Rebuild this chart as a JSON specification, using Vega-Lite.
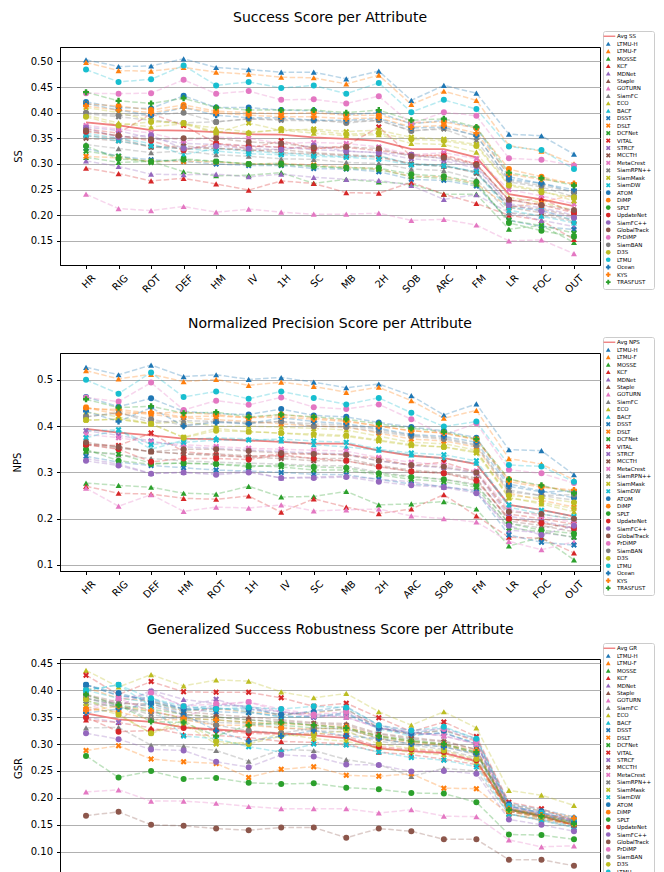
{
"$schema": "https://vega.github.io/schema/vega-lite/v6.json",
"background": "white",
"padding": {"left": 11, "top": 10, "right": 0, "bottom": 0},
"config": {
  "font": "DejaVu Sans",
  "view": {"stroke": "#000", "strokeWidth": 1},
  "title": {"font": "DejaVu Sans", "fontSize": 14, "fontWeight": "normal", "color": "#000", "offset": 6, "frame": "group"},
  "axis": {"labelFont": "DejaVu Sans", "titleFont": "DejaVu Sans", "labelFontSize": 10, "titleFontSize": 10, "titleFontWeight": "normal", "labelColor": "#000", "titleColor": "#000", "domainColor": "#000", "tickColor": "#000", "tickSize": 3.5, "labelPadding": 4, "gridColor": "#b0b0b0", "gridWidth": 1},
  "axisX": {"labelOffset": 4},
  "legend": {"labelFont": "DejaVu Sans", "labelFontSize": 5.5, "labelColor": "#000", "symbolSize": 22, "rowPadding": 0.45, "padding": 2.5, "strokeColor": "#cccccc", "cornerRadius": 2, "fillColor": "#ffffff", "labelOffset": 6, "symbolOpacity": 1, "symbolStrokeWidth": 0, "symbolLimit": 50}
},
"datasets": {
"ss": [
{"t":"Avg SS","HR":0.381,"RIG":0.375,"ROT":0.366,"DEF":0.365,"HM":0.362,"IV":0.358,"1H":0.357,"SC":0.352,"MB":0.349,"2H":0.345,"SOB":0.329,"ARC":0.329,"FM":0.313,"LR":0.241,"FOC":0.231,"OUT":0.218},
{"t":"LTMU-H","HR":0.503,"RIG":0.490,"ROT":0.491,"DEF":0.505,"HM":0.488,"IV":0.484,"1H":0.479,"SC":0.479,"MB":0.466,"2H":0.481,"SOB":0.424,"ARC":0.453,"FM":0.438,"LR":0.358,"FOC":0.355,"OUT":0.319},
{"t":"LTMU-F","HR":0.498,"RIG":0.482,"ROT":0.481,"DEF":0.488,"HM":0.479,"IV":0.475,"1H":0.469,"SC":0.468,"MB":0.456,"2H":0.473,"SOB":0.416,"ARC":0.442,"FM":0.424,"LR":0.336,"FOC":0.325,"OUT":0.300},
{"t":"MOSSE","HR":0.313,"RIG":0.303,"ROT":0.305,"DEF":0.285,"HM":0.277,"IV":0.278,"1H":0.283,"SC":0.262,"MB":0.270,"2H":0.265,"SOB":0.261,"ARC":0.241,"FM":0.241,"LR":0.173,"FOC":0.180,"OUT":0.147},
{"t":"KCF","HR":0.292,"RIG":0.281,"ROT":0.267,"DEF":0.272,"HM":0.261,"IV":0.249,"1H":0.267,"SC":0.262,"MB":0.244,"2H":0.243,"SOB":0.264,"ARC":0.241,"FM":0.223,"LR":0.200,"FOC":0.190,"OUT":0.153},
{"t":"MDNet","HR":0.306,"RIG":0.295,"ROT":0.280,"DEF":0.279,"HM":0.280,"IV":0.275,"1H":0.280,"SC":0.274,"MB":0.270,"2H":0.268,"SOB":0.258,"ARC":0.231,"FM":0.240,"LR":0.205,"FOC":0.190,"OUT":0.178},
{"t":"Staple","HR":0.355,"RIG":0.350,"ROT":0.333,"DEF":0.330,"HM":0.331,"IV":0.326,"1H":0.328,"SC":0.322,"MB":0.318,"2H":0.315,"SOB":0.300,"ARC":0.295,"FM":0.285,"LR":0.215,"FOC":0.205,"OUT":0.190},
{"t":"GOTURN","HR":0.241,"RIG":0.213,"ROT":0.209,"DEF":0.217,"HM":0.206,"IV":0.212,"1H":0.206,"SC":0.202,"MB":0.202,"2H":0.204,"SOB":0.190,"ARC":0.192,"FM":0.181,"LR":0.150,"FOC":0.152,"OUT":0.125},
{"t":"SiamFC","HR":0.338,"RIG":0.330,"ROT":0.322,"DEF":0.325,"HM":0.318,"IV":0.315,"1H":0.310,"SC":0.309,"MB":0.303,"2H":0.301,"SOB":0.290,"ARC":0.287,"FM":0.270,"LR":0.205,"FOC":0.200,"OUT":0.188},
{"t":"ECO","HR":0.395,"RIG":0.380,"ROT":0.372,"DEF":0.378,"HM":0.370,"IV":0.362,"1H":0.366,"SC":0.360,"MB":0.355,"2H":0.357,"SOB":0.340,"ARC":0.338,"FM":0.323,"LR":0.235,"FOC":0.225,"OUT":0.210},
{"t":"BACF","HR":0.360,"RIG":0.350,"ROT":0.340,"DEF":0.318,"HM":0.330,"IV":0.325,"1H":0.321,"SC":0.318,"MB":0.314,"2H":0.316,"SOB":0.300,"ARC":0.298,"FM":0.283,"LR":0.210,"FOC":0.198,"OUT":0.185},
{"t":"DSST","HR":0.330,"RIG":0.315,"ROT":0.308,"DEF":0.305,"HM":0.300,"IV":0.297,"1H":0.297,"SC":0.291,"MB":0.290,"2H":0.285,"SOB":0.270,"ARC":0.268,"FM":0.257,"LR":0.190,"FOC":0.178,"OUT":0.172},
{"t":"DSLT","HR":0.315,"RIG":0.312,"ROT":0.305,"DEF":0.305,"HM":0.304,"IV":0.300,"1H":0.301,"SC":0.298,"MB":0.294,"2H":0.290,"SOB":0.276,"ARC":0.275,"FM":0.262,"LR":0.215,"FOC":0.225,"OUT":0.240},
{"t":"DCFNet","HR":0.325,"RIG":0.315,"ROT":0.303,"DEF":0.310,"HM":0.305,"IV":0.300,"1H":0.298,"SC":0.296,"MB":0.291,"2H":0.289,"SOB":0.275,"ARC":0.272,"FM":0.260,"LR":0.190,"FOC":0.180,"OUT":0.165},
{"t":"VITAL","HR":0.368,"RIG":0.360,"ROT":0.398,"DEF":0.375,"HM":0.340,"IV":0.330,"1H":0.345,"SC":0.330,"MB":0.335,"2H":0.372,"SOB":0.315,"ARC":0.318,"FM":0.300,"LR":0.228,"FOC":0.232,"OUT":0.205},
{"t":"STRCF","HR":0.372,"RIG":0.365,"ROT":0.350,"DEF":0.340,"HM":0.338,"IV":0.335,"1H":0.332,"SC":0.328,"MB":0.325,"2H":0.322,"SOB":0.310,"ARC":0.306,"FM":0.292,"LR":0.222,"FOC":0.215,"OUT":0.200},
{"t":"MCCTH","HR":0.350,"RIG":0.345,"ROT":0.333,"DEF":0.335,"HM":0.330,"IV":0.328,"1H":0.322,"SC":0.320,"MB":0.316,"2H":0.313,"SOB":0.300,"ARC":0.297,"FM":0.282,"LR":0.218,"FOC":0.212,"OUT":0.198},
{"t":"MetaCrest","HR":0.375,"RIG":0.368,"ROT":0.360,"DEF":0.345,"HM":0.352,"IV":0.350,"1H":0.340,"SC":0.342,"MB":0.340,"2H":0.333,"SOB":0.318,"ARC":0.322,"FM":0.310,"LR":0.250,"FOC":0.238,"OUT":0.222},
{"t":"SiamRPN++","HR":0.398,"RIG":0.392,"ROT":0.385,"DEF":0.380,"HM":0.382,"IV":0.388,"1H":0.385,"SC":0.384,"MB":0.383,"2H":0.385,"SOB":0.365,"ARC":0.368,"FM":0.345,"LR":0.265,"FOC":0.255,"OUT":0.236},
{"t":"SiamMask","HR":0.410,"RIG":0.400,"ROT":0.385,"DEF":0.378,"HM":0.360,"IV":0.380,"1H":0.365,"SC":0.368,"MB":0.363,"2H":0.366,"SOB":0.352,"ARC":0.348,"FM":0.338,"LR":0.260,"FOC":0.248,"OUT":0.228},
{"t":"SiamDW","HR":0.356,"RIG":0.345,"ROT":0.335,"DEF":0.330,"HM":0.325,"IV":0.320,"1H":0.318,"SC":0.315,"MB":0.313,"2H":0.309,"SOB":0.298,"ARC":0.296,"FM":0.285,"LR":0.215,"FOC":0.210,"OUT":0.190},
{"t":"ATOM","HR":0.421,"RIG":0.410,"ROT":0.408,"DEF":0.433,"HM":0.410,"IV":0.410,"1H":0.405,"SC":0.404,"MB":0.396,"2H":0.400,"SOB":0.378,"ARC":0.385,"FM":0.370,"LR":0.275,"FOC":0.262,"OUT":0.245},
{"t":"DiMP","HR":0.417,"RIG":0.413,"ROT":0.405,"DEF":0.415,"HM":0.403,"IV":0.400,"1H":0.398,"SC":0.400,"MB":0.395,"2H":0.395,"SOB":0.380,"ARC":0.382,"FM":0.370,"LR":0.290,"FOC":0.275,"OUT":0.260},
{"t":"SPLT","HR":0.335,"RIG":0.310,"ROT":0.305,"DEF":0.308,"HM":0.305,"IV":0.300,"1H":0.301,"SC":0.295,"MB":0.293,"2H":0.292,"SOB":0.280,"ARC":0.276,"FM":0.265,"LR":0.185,"FOC":0.170,"OUT":0.158},
{"t":"UpdateNet","HR":0.363,"RIG":0.355,"ROT":0.345,"DEF":0.327,"HM":0.340,"IV":0.335,"1H":0.333,"SC":0.330,"MB":0.332,"2H":0.326,"SOB":0.318,"ARC":0.315,"FM":0.300,"LR":0.230,"FOC":0.220,"OUT":0.205},
{"t":"SiamFC++","HR":0.370,"RIG":0.352,"ROT":0.356,"DEF":0.330,"HM":0.335,"IV":0.330,"1H":0.328,"SC":0.336,"MB":0.325,"2H":0.322,"SOB":0.318,"ARC":0.310,"FM":0.296,"LR":0.220,"FOC":0.208,"OUT":0.195},
{"t":"GlobalTrack","HR":0.365,"RIG":0.355,"ROT":0.348,"DEF":0.350,"HM":0.350,"IV":0.343,"1H":0.340,"SC":0.332,"MB":0.333,"2H":0.330,"SOB":0.315,"ARC":0.312,"FM":0.298,"LR":0.230,"FOC":0.220,"OUT":0.210},
{"t":"PrDiMP","HR":0.438,"RIG":0.437,"ROT":0.438,"DEF":0.464,"HM":0.437,"IV":0.442,"1H":0.425,"SC":0.426,"MB":0.418,"2H":0.432,"SOB":0.378,"ARC":0.401,"FM":0.394,"LR":0.311,"FOC":0.308,"OUT":0.297},
{"t":"SiamBAN","HR":0.400,"RIG":0.395,"ROT":0.395,"DEF":0.400,"HM":0.382,"IV":0.388,"1H":0.387,"SC":0.386,"MB":0.380,"2H":0.385,"SOB":0.364,"ARC":0.370,"FM":0.356,"LR":0.268,"FOC":0.258,"OUT":0.245},
{"t":"D3S","HR":0.392,"RIG":0.375,"ROT":0.382,"DEF":0.380,"HM":0.362,"IV":0.360,"1H":0.368,"SC":0.365,"MB":0.358,"2H":0.360,"SOB":0.348,"ARC":0.345,"FM":0.335,"LR":0.258,"FOC":0.245,"OUT":0.235},
{"t":"LTMU","HR":0.484,"RIG":0.460,"ROT":0.465,"DEF":0.492,"HM":0.453,"IV":0.460,"1H":0.448,"SC":0.453,"MB":0.437,"2H":0.458,"SOB":0.401,"ARC":0.425,"FM":0.407,"LR":0.334,"FOC":0.327,"OUT":0.290},
{"t":"Ocean","HR":0.418,"RIG":0.405,"ROT":0.395,"DEF":0.410,"HM":0.395,"IV":0.390,"1H":0.390,"SC":0.385,"MB":0.385,"2H":0.388,"SOB":0.370,"ARC":0.372,"FM":0.355,"LR":0.270,"FOC":0.262,"OUT":0.250},
{"t":"KYS","HR":0.413,"RIG":0.405,"ROT":0.400,"DEF":0.410,"HM":0.400,"IV":0.395,"1H":0.392,"SC":0.392,"MB":0.388,"2H":0.390,"SOB":0.372,"ARC":0.375,"FM":0.360,"LR":0.280,"FOC":0.270,"OUT":0.262},
{"t":"TRASFUST","HR":0.440,"RIG":0.423,"ROT":0.418,"DEF":0.428,"HM":0.410,"IV":0.405,"1H":0.405,"SC":0.405,"MB":0.400,"2H":0.405,"SOB":0.385,"ARC":0.388,"FM":0.372,"LR":0.283,"FOC":0.272,"OUT":0.258}
],
"nps": [
{"t":"Avg NPS","HR":0.394,"RIG":0.386,"DEF":0.380,"HM":0.373,"ROT":0.372,"1H":0.369,"IV":0.366,"SC":0.362,"MB":0.362,"2H":0.347,"ARC":0.336,"SOB":0.331,"FM":0.318,"LR":0.230,"FOC":0.219,"OUT":0.205},
{"t":"LTMU-H","HR":0.527,"RIG":0.511,"DEF":0.532,"HM":0.507,"ROT":0.511,"1H":0.501,"IV":0.505,"SC":0.495,"MB":0.483,"2H":0.491,"ARC":0.466,"SOB":0.424,"FM":0.448,"LR":0.349,"FOC":0.347,"OUT":0.295},
{"t":"LTMU-F","HR":0.520,"RIG":0.502,"DEF":0.512,"HM":0.496,"ROT":0.501,"1H":0.488,"IV":0.495,"SC":0.486,"MB":0.473,"2H":0.484,"ARC":0.455,"SOB":0.417,"FM":0.434,"LR":0.330,"FOC":0.318,"OUT":0.284},
{"t":"MOSSE","HR":0.277,"RIG":0.272,"DEF":0.268,"HM":0.255,"ROT":0.253,"1H":0.270,"IV":0.247,"SC":0.248,"MB":0.259,"2H":0.230,"ARC":0.232,"SOB":0.237,"FM":0.221,"LR":0.141,"FOC":0.160,"OUT":0.111},
{"t":"KCF","HR":0.270,"RIG":0.255,"DEF":0.253,"HM":0.244,"ROT":0.242,"1H":0.249,"IV":0.214,"SC":0.243,"MB":0.225,"2H":0.211,"ARC":0.221,"SOB":0.252,"FM":0.206,"LR":0.160,"FOC":0.158,"OUT":0.126},
{"t":"MDNet","HR":0.330,"RIG":0.318,"DEF":0.298,"HM":0.300,"ROT":0.298,"1H":0.302,"IV":0.288,"SC":0.290,"MB":0.292,"2H":0.285,"ARC":0.280,"SOB":0.268,"FM":0.262,"LR":0.175,"FOC":0.170,"OUT":0.160},
{"t":"Staple","HR":0.362,"RIG":0.355,"DEF":0.345,"HM":0.340,"ROT":0.340,"1H":0.336,"IV":0.335,"SC":0.330,"MB":0.330,"2H":0.315,"ARC":0.305,"SOB":0.300,"FM":0.288,"LR":0.195,"FOC":0.185,"OUT":0.172},
{"t":"GOTURN","HR":0.266,"RIG":0.227,"DEF":0.252,"HM":0.216,"ROT":0.225,"1H":0.223,"IV":0.230,"SC":0.217,"MB":0.219,"2H":0.221,"ARC":0.206,"SOB":0.200,"FM":0.193,"LR":0.151,"FOC":0.133,"OUT":0.150},
{"t":"SiamFC","HR":0.345,"RIG":0.338,"DEF":0.330,"HM":0.325,"ROT":0.322,"1H":0.320,"IV":0.318,"SC":0.315,"MB":0.314,"2H":0.300,"ARC":0.292,"SOB":0.285,"FM":0.275,"LR":0.190,"FOC":0.180,"OUT":0.190},
{"t":"ECO","HR":0.430,"RIG":0.420,"DEF":0.405,"HM":0.410,"ROT":0.400,"1H":0.400,"IV":0.398,"SC":0.395,"MB":0.392,"2H":0.378,"ARC":0.365,"SOB":0.362,"FM":0.348,"LR":0.245,"FOC":0.232,"OUT":0.215},
{"t":"BACF","HR":0.390,"RIG":0.392,"DEF":0.350,"HM":0.370,"ROT":0.375,"1H":0.372,"IV":0.368,"SC":0.360,"MB":0.355,"2H":0.348,"ARC":0.338,"SOB":0.330,"FM":0.320,"LR":0.225,"FOC":0.210,"OUT":0.198},
{"t":"DSST","HR":0.335,"RIG":0.322,"DEF":0.315,"HM":0.310,"ROT":0.305,"1H":0.303,"IV":0.300,"SC":0.296,"MB":0.295,"2H":0.285,"ARC":0.275,"SOB":0.270,"FM":0.258,"LR":0.165,"FOC":0.149,"OUT":0.143},
{"t":"DSLT","HR":0.440,"RIG":0.432,"DEF":0.425,"HM":0.418,"ROT":0.414,"1H":0.410,"IV":0.405,"SC":0.400,"MB":0.398,"2H":0.385,"ARC":0.372,"SOB":0.368,"FM":0.355,"LR":0.255,"FOC":0.240,"OUT":0.225},
{"t":"DCFNet","HR":0.345,"RIG":0.340,"DEF":0.320,"HM":0.320,"ROT":0.318,"1H":0.315,"IV":0.312,"SC":0.305,"MB":0.305,"2H":0.295,"ARC":0.285,"SOB":0.280,"FM":0.268,"LR":0.180,"FOC":0.172,"OUT":0.160},
{"t":"VITAL","HR":0.360,"RIG":0.358,"DEF":0.385,"HM":0.345,"ROT":0.338,"1H":0.333,"IV":0.340,"SC":0.340,"MB":0.338,"2H":0.330,"ARC":0.315,"SOB":0.322,"FM":0.300,"LR":0.210,"FOC":0.200,"OUT":0.188},
{"t":"STRCF","HR":0.390,"RIG":0.380,"DEF":0.368,"HM":0.355,"ROT":0.352,"1H":0.348,"IV":0.345,"SC":0.342,"MB":0.340,"2H":0.325,"ARC":0.315,"SOB":0.310,"FM":0.298,"LR":0.205,"FOC":0.195,"OUT":0.180},
{"t":"MCCTH","HR":0.360,"RIG":0.352,"DEF":0.345,"HM":0.340,"ROT":0.336,"1H":0.333,"IV":0.330,"SC":0.325,"MB":0.325,"2H":0.313,"ARC":0.302,"SOB":0.298,"FM":0.285,"LR":0.200,"FOC":0.192,"OUT":0.178},
{"t":"MetaCrest","HR":0.382,"RIG":0.375,"DEF":0.365,"HM":0.360,"ROT":0.356,"1H":0.352,"IV":0.350,"SC":0.348,"MB":0.346,"2H":0.332,"ARC":0.322,"SOB":0.316,"FM":0.303,"LR":0.220,"FOC":0.205,"OUT":0.192},
{"t":"SiamRPN++","HR":0.420,"RIG":0.430,"DEF":0.408,"HM":0.412,"ROT":0.410,"1H":0.408,"IV":0.410,"SC":0.405,"MB":0.402,"2H":0.392,"ARC":0.380,"SOB":0.375,"FM":0.360,"LR":0.262,"FOC":0.250,"OUT":0.240},
{"t":"SiamMask","HR":0.413,"RIG":0.415,"DEF":0.405,"HM":0.376,"ROT":0.395,"1H":0.388,"IV":0.385,"SC":0.380,"MB":0.378,"2H":0.368,"ARC":0.358,"SOB":0.355,"FM":0.342,"LR":0.245,"FOC":0.235,"OUT":0.222},
{"t":"SiamDW","HR":0.375,"RIG":0.392,"DEF":0.360,"HM":0.365,"ROT":0.370,"1H":0.370,"IV":0.372,"SC":0.368,"MB":0.365,"2H":0.350,"ARC":0.342,"SOB":0.338,"FM":0.325,"LR":0.230,"FOC":0.218,"OUT":0.205},
{"t":"ATOM","HR":0.463,"RIG":0.442,"DEF":0.460,"HM":0.432,"ROT":0.427,"1H":0.425,"IV":0.437,"SC":0.423,"MB":0.420,"2H":0.408,"ARC":0.398,"SOB":0.390,"FM":0.375,"LR":0.275,"FOC":0.260,"OUT":0.245},
{"t":"DiMP","HR":0.438,"RIG":0.436,"DEF":0.428,"HM":0.430,"ROT":0.425,"1H":0.418,"IV":0.425,"SC":0.418,"MB":0.412,"2H":0.400,"ARC":0.390,"SOB":0.385,"FM":0.372,"LR":0.285,"FOC":0.270,"OUT":0.258},
{"t":"SPLT","HR":0.350,"RIG":0.325,"DEF":0.318,"HM":0.320,"ROT":0.318,"1H":0.312,"IV":0.316,"SC":0.312,"MB":0.310,"2H":0.298,"ARC":0.290,"SOB":0.285,"FM":0.272,"LR":0.190,"FOC":0.175,"OUT":0.168},
{"t":"UpdateNet","HR":0.360,"RIG":0.350,"DEF":0.323,"HM":0.330,"ROT":0.330,"1H":0.328,"IV":0.338,"SC":0.330,"MB":0.325,"2H":0.312,"ARC":0.302,"SOB":0.298,"FM":0.282,"LR":0.200,"FOC":0.190,"OUT":0.180},
{"t":"SiamFC++","HR":0.325,"RIG":0.315,"DEF":0.297,"HM":0.300,"ROT":0.295,"1H":0.300,"IV":0.288,"SC":0.288,"MB":0.290,"2H":0.280,"ARC":0.272,"SOB":0.268,"FM":0.255,"LR":0.185,"FOC":0.165,"OUT":0.185},
{"t":"GlobalTrack","HR":0.365,"RIG":0.355,"DEF":0.345,"HM":0.350,"ROT":0.350,"1H":0.346,"IV":0.342,"SC":0.340,"MB":0.338,"2H":0.325,"ARC":0.316,"SOB":0.312,"FM":0.300,"LR":0.215,"FOC":0.210,"OUT":0.200},
{"t":"PrDiMP","HR":0.462,"RIG":0.453,"DEF":0.494,"HM":0.435,"ROT":0.455,"1H":0.446,"IV":0.462,"SC":0.441,"MB":0.437,"2H":0.447,"ARC":0.415,"SOB":0.381,"FM":0.406,"LR":0.306,"FOC":0.298,"OUT":0.277},
{"t":"SiamBAN","HR":0.420,"RIG":0.428,"DEF":0.415,"HM":0.402,"ROT":0.410,"1H":0.405,"IV":0.410,"SC":0.400,"MB":0.398,"2H":0.388,"ARC":0.378,"SOB":0.372,"FM":0.358,"LR":0.258,"FOC":0.250,"OUT":0.252},
{"t":"D3S","HR":0.413,"RIG":0.415,"DEF":0.405,"HM":0.375,"ROT":0.390,"1H":0.388,"IV":0.385,"SC":0.383,"MB":0.380,"2H":0.370,"ARC":0.360,"SOB":0.355,"FM":0.345,"LR":0.250,"FOC":0.245,"OUT":0.235},
{"t":"LTMU","HR":0.500,"RIG":0.470,"DEF":0.516,"HM":0.463,"ROT":0.475,"1H":0.459,"IV":0.475,"SC":0.461,"MB":0.447,"2H":0.461,"ARC":0.429,"SOB":0.399,"FM":0.410,"LR":0.316,"FOC":0.313,"OUT":0.280},
{"t":"Ocean","HR":0.432,"RIG":0.410,"DEF":0.440,"HM":0.400,"ROT":0.408,"1H":0.405,"IV":0.418,"SC":0.410,"MB":0.405,"2H":0.395,"ARC":0.382,"SOB":0.378,"FM":0.365,"LR":0.270,"FOC":0.258,"OUT":0.260},
{"t":"KYS","HR":0.440,"RIG":0.425,"DEF":0.430,"HM":0.420,"ROT":0.422,"1H":0.418,"IV":0.420,"SC":0.415,"MB":0.410,"2H":0.400,"ARC":0.390,"SOB":0.385,"FM":0.370,"LR":0.280,"FOC":0.268,"OUT":0.262},
{"t":"TRASFUST","HR":0.458,"RIG":0.440,"DEF":0.443,"HM":0.428,"ROT":0.430,"1H":0.420,"IV":0.425,"SC":0.420,"MB":0.415,"2H":0.405,"ARC":0.395,"SOB":0.388,"FM":0.372,"LR":0.285,"FOC":0.272,"OUT":0.255}
],
"gsr": [
{"t":"Avg GR","HR":0.357,"DEF":0.346,"RIG":0.341,"1H":0.331,"HM":0.327,"MB":0.323,"ROT":0.320,"SC":0.316,"IV":0.311,"ARC":0.292,"SOB":0.287,"2H":0.283,"FM":0.268,"LR":0.178,"OUT":0.166,"FOC":0.150},
{"t":"LTMU-H","HR":0.410,"DEF":0.390,"RIG":0.385,"1H":0.365,"HM":0.372,"MB":0.370,"ROT":0.352,"SC":0.362,"IV":0.370,"ARC":0.335,"SOB":0.320,"2H":0.330,"FM":0.310,"LR":0.190,"OUT":0.178,"FOC":0.165},
{"t":"LTMU-F","HR":0.405,"DEF":0.385,"RIG":0.380,"1H":0.362,"HM":0.365,"MB":0.360,"ROT":0.355,"SC":0.358,"IV":0.365,"ARC":0.330,"SOB":0.318,"2H":0.326,"FM":0.305,"LR":0.188,"OUT":0.176,"FOC":0.164},
{"t":"MOSSE","HR":0.385,"DEF":0.372,"RIG":0.365,"1H":0.355,"HM":0.350,"MB":0.345,"ROT":0.340,"SC":0.335,"IV":0.330,"ARC":0.315,"SOB":0.308,"2H":0.300,"FM":0.285,"LR":0.180,"OUT":0.170,"FOC":0.156},
{"t":"KCF","HR":0.345,"DEF":0.340,"RIG":0.330,"1H":0.318,"HM":0.316,"MB":0.312,"ROT":0.305,"SC":0.303,"IV":0.300,"ARC":0.285,"SOB":0.280,"2H":0.272,"FM":0.262,"LR":0.175,"OUT":0.163,"FOC":0.150},
{"t":"MDNet","HR":0.385,"DEF":0.370,"RIG":0.400,"1H":0.383,"HM":0.375,"MB":0.370,"ROT":0.360,"SC":0.355,"IV":0.350,"ARC":0.330,"SOB":0.322,"2H":0.315,"FM":0.300,"LR":0.185,"OUT":0.172,"FOC":0.158},
{"t":"Staple","HR":0.390,"DEF":0.375,"RIG":0.375,"1H":0.360,"HM":0.355,"MB":0.350,"ROT":0.345,"SC":0.340,"IV":0.338,"ARC":0.320,"SOB":0.312,"2H":0.306,"FM":0.290,"LR":0.183,"OUT":0.170,"FOC":0.157},
{"t":"GOTURN","HR":0.211,"DEF":0.215,"RIG":0.194,"1H":0.194,"HM":0.190,"MB":0.184,"ROT":0.180,"SC":0.180,"IV":0.180,"ARC":0.172,"SOB":0.178,"2H":0.166,"FM":0.165,"LR":0.122,"OUT":0.109,"FOC":0.111},
{"t":"SiamFC","HR":0.330,"DEF":0.331,"RIG":0.298,"1H":0.296,"HM":0.288,"MB":0.268,"ROT":0.290,"SC":0.288,"IV":0.271,"ARC":0.262,"SOB":0.240,"2H":0.255,"FM":0.250,"LR":0.170,"OUT":0.158,"FOC":0.145},
{"t":"ECO","HR":0.437,"DEF":0.406,"RIG":0.429,"1H":0.408,"HM":0.419,"MB":0.417,"ROT":0.397,"SC":0.386,"IV":0.394,"ARC":0.360,"SOB":0.335,"2H":0.360,"FM":0.330,"LR":0.214,"OUT":0.205,"FOC":0.186},
{"t":"BACF","HR":0.400,"DEF":0.385,"RIG":0.378,"1H":0.362,"HM":0.368,"MB":0.360,"ROT":0.350,"SC":0.352,"IV":0.358,"ARC":0.328,"SOB":0.315,"2H":0.322,"FM":0.300,"LR":0.185,"OUT":0.172,"FOC":0.158},
{"t":"DSST","HR":0.410,"DEF":0.390,"RIG":0.382,"1H":0.365,"HM":0.360,"MB":0.358,"ROT":0.352,"SC":0.350,"IV":0.355,"ARC":0.330,"SOB":0.318,"2H":0.320,"FM":0.302,"LR":0.170,"OUT":0.160,"FOC":0.148},
{"t":"DSLT","HR":0.288,"DEF":0.297,"RIG":0.272,"1H":0.267,"HM":0.264,"MB":0.238,"ROT":0.253,"SC":0.258,"IV":0.242,"ARC":0.240,"SOB":0.245,"2H":0.218,"FM":0.217,"LR":0.170,"OUT":0.160,"FOC":0.150},
{"t":"DCFNet","HR":0.380,"DEF":0.368,"RIG":0.360,"1H":0.348,"HM":0.345,"MB":0.340,"ROT":0.335,"SC":0.330,"IV":0.328,"ARC":0.312,"SOB":0.305,"2H":0.298,"FM":0.283,"LR":0.178,"OUT":0.167,"FOC":0.153},
{"t":"VITAL","HR":0.428,"DEF":0.392,"RIG":0.416,"1H":0.397,"HM":0.396,"MB":0.396,"ROT":0.386,"SC":0.370,"IV":0.376,"ARC":0.349,"SOB":0.323,"2H":0.341,"FM":0.314,"LR":0.192,"OUT":0.180,"FOC":0.158},
{"t":"STRCF","HR":0.350,"DEF":0.340,"RIG":0.398,"1H":0.370,"HM":0.383,"MB":0.365,"ROT":0.360,"SC":0.350,"IV":0.358,"ARC":0.330,"SOB":0.318,"2H":0.320,"FM":0.300,"LR":0.185,"OUT":0.172,"FOC":0.158},
{"t":"MCCTH","HR":0.392,"DEF":0.378,"RIG":0.370,"1H":0.355,"HM":0.350,"MB":0.345,"ROT":0.342,"SC":0.338,"IV":0.335,"ARC":0.318,"SOB":0.310,"2H":0.304,"FM":0.290,"LR":0.180,"OUT":0.168,"FOC":0.155},
{"t":"MetaCrest","HR":0.365,"DEF":0.385,"RIG":0.360,"1H":0.350,"HM":0.372,"MB":0.378,"ROT":0.360,"SC":0.352,"IV":0.350,"ARC":0.330,"SOB":0.322,"2H":0.315,"FM":0.300,"LR":0.182,"OUT":0.170,"FOC":0.158},
{"t":"SiamRPN++","HR":0.375,"DEF":0.370,"RIG":0.355,"1H":0.345,"HM":0.340,"MB":0.338,"ROT":0.330,"SC":0.325,"IV":0.322,"ARC":0.305,"SOB":0.298,"2H":0.290,"FM":0.275,"LR":0.178,"OUT":0.165,"FOC":0.152},
{"t":"SiamMask","HR":0.370,"DEF":0.355,"RIG":0.320,"1H":0.338,"HM":0.300,"MB":0.303,"ROT":0.320,"SC":0.310,"IV":0.305,"ARC":0.292,"SOB":0.285,"2H":0.280,"FM":0.265,"LR":0.175,"OUT":0.162,"FOC":0.150},
{"t":"SiamDW","HR":0.400,"DEF":0.410,"RIG":0.370,"1H":0.315,"HM":0.310,"MB":0.295,"ROT":0.285,"SC":0.300,"IV":0.298,"ARC":0.285,"SOB":0.275,"2H":0.270,"FM":0.258,"LR":0.170,"OUT":0.158,"FOC":0.145},
{"t":"ATOM","HR":0.410,"DEF":0.395,"RIG":0.378,"1H":0.365,"HM":0.365,"MB":0.365,"ROT":0.355,"SC":0.360,"IV":0.365,"ARC":0.330,"SOB":0.320,"2H":0.325,"FM":0.308,"LR":0.188,"OUT":0.175,"FOC":0.162},
{"t":"DiMP","HR":0.365,"DEF":0.360,"RIG":0.345,"1H":0.345,"HM":0.335,"MB":0.335,"ROT":0.330,"SC":0.328,"IV":0.330,"ARC":0.310,"SOB":0.302,"2H":0.298,"FM":0.283,"LR":0.178,"OUT":0.168,"FOC":0.154},
{"t":"SPLT","HR":0.278,"DEF":0.238,"RIG":0.250,"1H":0.235,"HM":0.237,"MB":0.228,"ROT":0.226,"SC":0.227,"IV":0.219,"ARC":0.216,"SOB":0.209,"2H":0.208,"FM":0.192,"LR":0.132,"OUT":0.131,"FOC":0.123},
{"t":"UpdateNet","HR":0.350,"DEF":0.323,"RIG":0.325,"1H":0.330,"HM":0.325,"MB":0.320,"ROT":0.318,"SC":0.320,"IV":0.315,"ARC":0.295,"SOB":0.290,"2H":0.285,"FM":0.270,"LR":0.175,"OUT":0.165,"FOC":0.150},
{"t":"SiamFC++","HR":0.320,"DEF":0.309,"RIG":0.290,"1H":0.288,"HM":0.267,"MB":0.257,"ROT":0.280,"SC":0.277,"IV":0.262,"ARC":0.261,"SOB":0.249,"2H":0.250,"FM":0.245,"LR":0.160,"OUT":0.150,"FOC":0.138},
{"t":"GlobalTrack","HR":0.167,"DEF":0.174,"RIG":0.150,"1H":0.148,"HM":0.143,"MB":0.140,"ROT":0.145,"SC":0.145,"IV":0.126,"ARC":0.143,"SOB":0.138,"2H":0.123,"FM":0.123,"LR":0.085,"OUT":0.085,"FOC":0.074},
{"t":"PrDiMP","HR":0.360,"DEF":0.383,"RIG":0.395,"1H":0.370,"HM":0.375,"MB":0.378,"ROT":0.365,"SC":0.355,"IV":0.360,"ARC":0.335,"SOB":0.325,"2H":0.328,"FM":0.305,"LR":0.185,"OUT":0.172,"FOC":0.160},
{"t":"SiamBAN","HR":0.385,"DEF":0.375,"RIG":0.345,"1H":0.350,"HM":0.335,"MB":0.325,"ROT":0.320,"SC":0.330,"IV":0.328,"ARC":0.310,"SOB":0.300,"2H":0.295,"FM":0.280,"LR":0.178,"OUT":0.168,"FOC":0.155},
{"t":"D3S","HR":0.383,"DEF":0.355,"RIG":0.320,"1H":0.345,"HM":0.305,"MB":0.300,"ROT":0.315,"SC":0.318,"IV":0.325,"ARC":0.300,"SOB":0.292,"2H":0.288,"FM":0.272,"LR":0.176,"OUT":0.165,"FOC":0.152},
{"t":"LTMU","HR":0.400,"DEF":0.410,"RIG":0.385,"1H":0.370,"HM":0.365,"MB":0.368,"ROT":0.365,"SC":0.370,"IV":0.368,"ARC":0.335,"SOB":0.325,"2H":0.332,"FM":0.310,"LR":0.185,"OUT":0.172,"FOC":0.160},
{"t":"Ocean","HR":0.358,"DEF":0.365,"RIG":0.375,"1H":0.355,"HM":0.325,"MB":0.305,"ROT":0.315,"SC":0.325,"IV":0.315,"ARC":0.310,"SOB":0.300,"2H":0.295,"FM":0.282,"LR":0.180,"OUT":0.168,"FOC":0.155},
{"t":"KYS","HR":0.362,"DEF":0.370,"RIG":0.362,"1H":0.348,"HM":0.345,"MB":0.340,"ROT":0.338,"SC":0.335,"IV":0.332,"ARC":0.315,"SOB":0.305,"2H":0.300,"FM":0.288,"LR":0.180,"OUT":0.168,"FOC":0.162},
{"t":"TRASFUST","HR":0.392,"DEF":0.372,"RIG":0.342,"1H":0.340,"HM":0.315,"MB":0.335,"ROT":0.340,"SC":0.335,"IV":0.330,"ARC":0.315,"SOB":0.305,"2H":0.300,"FM":0.285,"LR":0.178,"OUT":0.166,"FOC":0.152}
]
},
"spacing": 20,
"resolve": {"scale": {"color": "independent", "shape": "independent", "stroke": "independent", "x": "independent", "y": "independent"}, "legend": {"color": "independent", "shape": "independent", "stroke": "independent"}},
"vconcat": [
{
 "width": 540, "height": 218,
 "title": "Success Score per Attribute",
 "data": {"name": "ss"},
 "transform": [{"fold": ["HR","RIG","ROT","DEF","HM","IV","1H","SC","MB","2H","SOB","ARC","FM","LR","FOC","OUT"], "as": ["a", "v"]}],
 "encoding": {
  "x": {"field": "a", "type": "ordinal", "sort": ["HR","RIG","ROT","DEF","HM","IV","1H","SC","MB","2H","SOB","ARC","FM","LR","FOC","OUT"], "scale": {"type": "point", "padding": 0.8}, "axis": {"title": null, "labelAngle": -45, "grid": false}},
  "y": {"field": "v", "type": "quantitative", "scale": {"domain": [0.103, 0.528], "nice": false, "zero": false}, "axis": {"title": "SS", "values": [0.15,0.2,0.25,0.3,0.35,0.4,0.45,0.5], "format": ".2f", "grid": true, "titleX": -42, "titleBaseline": "middle"}},
  "order": {"value": null}
 },
 "layer": [
  {"transform": [{"filter": "datum.t === 'Avg SS'"}], "mark": {"type": "line", "strokeWidth": 1.8},
   "encoding": {"stroke": {"field": "t", "type": "nominal", "legend": null, "scale": {"domain": ["LTMU-H","LTMU-F","MOSSE","KCF","MDNet","Staple","GOTURN","SiamFC","ECO","BACF","DSST","DSLT","DCFNet","VITAL","STRCF","MCCTH","MetaCrest","SiamRPN++","SiamMask","SiamDW","ATOM","DiMP","SPLT","UpdateNet","SiamFC++","GlobalTrack","PrDiMP","SiamBAN","D3S","LTMU","Ocean","KYS","TRASFUST","Avg SS"], "range": ["#1f77b4","#ff7f0e","#2ca02c","#d62728","#9467bd","#8c564b","#e377c2","#7f7f7f","#bcbd22","#17becf","#1f77b4","#ff7f0e","#2ca02c","#d62728","#9467bd","#8c564b","#e377c2","#7f7f7f","#bcbd22","#17becf","#1f77b4","#ff7f0e","#2ca02c","#d62728","#9467bd","#8c564b","#e377c2","#7f7f7f","#bcbd22","#17becf","#1f77b4","#ff7f0e","#2ca02c","#f08080"]}}}},
  {"transform": [{"filter": "datum.t !== 'Avg SS'"}], "mark": {"type": "line", "strokeWidth": 1.5, "strokeDash": [5.5, 2.4], "opacity": 0.3},
   "encoding": {"stroke": {"field": "t", "type": "nominal", "legend": null}}},
  {"transform": [{"filter": "datum.t !== 'Avg SS'"}], "mark": {"type": "point", "filled": true, "size": 36, "opacity": 1},
   "encoding": {
    "color": {"field": "t", "type": "nominal", "legend": {"title": null, "orient": "none", "legendX": 543, "legendY": -16}, "scale": {"domain": ["Avg SS","LTMU-H","LTMU-F","MOSSE","KCF","MDNet","Staple","GOTURN","SiamFC","ECO","BACF","DSST","DSLT","DCFNet","VITAL","STRCF","MCCTH","MetaCrest","SiamRPN++","SiamMask","SiamDW","ATOM","DiMP","SPLT","UpdateNet","SiamFC++","GlobalTrack","PrDiMP","SiamBAN","D3S","LTMU","Ocean","KYS","TRASFUST"], "range": ["#f08080","#1f77b4","#ff7f0e","#2ca02c","#d62728","#9467bd","#8c564b","#e377c2","#7f7f7f","#bcbd22","#17becf","#1f77b4","#ff7f0e","#2ca02c","#d62728","#9467bd","#8c564b","#e377c2","#7f7f7f","#bcbd22","#17becf","#1f77b4","#ff7f0e","#2ca02c","#d62728","#9467bd","#8c564b","#e377c2","#7f7f7f","#bcbd22","#17becf","#1f77b4","#ff7f0e","#2ca02c"]}},
    "shape": {"field": "t", "type": "nominal", "legend": {"title": null, "orient": "none", "legendX": 543, "legendY": -16}, "scale": {"domain": ["Avg SS","LTMU-H","LTMU-F","MOSSE","KCF","MDNet","Staple","GOTURN","SiamFC","ECO","BACF","DSST","DSLT","DCFNet","VITAL","STRCF","MCCTH","MetaCrest","SiamRPN++","SiamMask","SiamDW","ATOM","DiMP","SPLT","UpdateNet","SiamFC++","GlobalTrack","PrDiMP","SiamBAN","D3S","LTMU","Ocean","KYS","TRASFUST"], "range": ["M-2,-0.3L3,-0.3L3,0.3L-2,0.3Z","triangle-up","triangle-up","triangle-up","triangle-up","triangle-up","triangle-up","triangle-up","triangle-up","triangle-up","triangle-up","M-1,-0.5L-0.5,-1L0,-0.5L0.5,-1L1,-0.5L0.5,0L1,0.5L0.5,1L0,0.5L-0.5,1L-1,0.5L-0.5,0Z","M-1,-0.5L-0.5,-1L0,-0.5L0.5,-1L1,-0.5L0.5,0L1,0.5L0.5,1L0,0.5L-0.5,1L-1,0.5L-0.5,0Z","M-1,-0.5L-0.5,-1L0,-0.5L0.5,-1L1,-0.5L0.5,0L1,0.5L0.5,1L0,0.5L-0.5,1L-1,0.5L-0.5,0Z","M-1,-0.5L-0.5,-1L0,-0.5L0.5,-1L1,-0.5L0.5,0L1,0.5L0.5,1L0,0.5L-0.5,1L-1,0.5L-0.5,0Z","M-1,-0.5L-0.5,-1L0,-0.5L0.5,-1L1,-0.5L0.5,0L1,0.5L0.5,1L0,0.5L-0.5,1L-1,0.5L-0.5,0Z","M-1,-0.5L-0.5,-1L0,-0.5L0.5,-1L1,-0.5L0.5,0L1,0.5L0.5,1L0,0.5L-0.5,1L-1,0.5L-0.5,0Z","M-1,-0.5L-0.5,-1L0,-0.5L0.5,-1L1,-0.5L0.5,0L1,0.5L0.5,1L0,0.5L-0.5,1L-1,0.5L-0.5,0Z","M-1,-0.5L-0.5,-1L0,-0.5L0.5,-1L1,-0.5L0.5,0L1,0.5L0.5,1L0,0.5L-0.5,1L-1,0.5L-0.5,0Z","M-1,-0.5L-0.5,-1L0,-0.5L0.5,-1L1,-0.5L0.5,0L1,0.5L0.5,1L0,0.5L-0.5,1L-1,0.5L-0.5,0Z","M-1,-0.5L-0.5,-1L0,-0.5L0.5,-1L1,-0.5L0.5,0L1,0.5L0.5,1L0,0.5L-0.5,1L-1,0.5L-0.5,0Z","circle","circle","circle","circle","circle","circle","circle","circle","circle","circle","cross","cross","cross"]}}
   }}
 ]
},
{
 "width": 540, "height": 218,
 "title": "Normalized Precision Score per Attribute",
 "data": {"name": "nps"},
 "transform": [{"fold": ["HR","RIG","DEF","HM","ROT","1H","IV","SC","MB","2H","ARC","SOB","FM","LR","FOC","OUT"], "as": ["a", "v"]}],
 "encoding": {
  "x": {"field": "a", "type": "ordinal", "sort": ["HR","RIG","DEF","HM","ROT","1H","IV","SC","MB","2H","ARC","SOB","FM","LR","FOC","OUT"], "scale": {"type": "point", "padding": 0.8}, "axis": {"title": null, "labelAngle": -45, "grid": false}},
  "y": {"field": "v", "type": "quantitative", "scale": {"domain": [0.087, 0.558], "nice": false, "zero": false}, "axis": {"title": "NPS", "values": [0.1,0.2,0.3,0.4,0.5], "format": ".1f", "grid": true, "titleX": -43, "titleBaseline": "middle"}},
  "order": {"value": null}
 },
 "layer": [
  {"transform": [{"filter": "datum.t === 'Avg NPS'"}], "mark": {"type": "line", "strokeWidth": 1.8},
   "encoding": {"stroke": {"field": "t", "type": "nominal", "legend": null, "scale": {"domain": ["LTMU-H","LTMU-F","MOSSE","KCF","MDNet","Staple","GOTURN","SiamFC","ECO","BACF","DSST","DSLT","DCFNet","VITAL","STRCF","MCCTH","MetaCrest","SiamRPN++","SiamMask","SiamDW","ATOM","DiMP","SPLT","UpdateNet","SiamFC++","GlobalTrack","PrDiMP","SiamBAN","D3S","LTMU","Ocean","KYS","TRASFUST","Avg NPS"], "range": ["#1f77b4","#ff7f0e","#2ca02c","#d62728","#9467bd","#8c564b","#e377c2","#7f7f7f","#bcbd22","#17becf","#1f77b4","#ff7f0e","#2ca02c","#d62728","#9467bd","#8c564b","#e377c2","#7f7f7f","#bcbd22","#17becf","#1f77b4","#ff7f0e","#2ca02c","#d62728","#9467bd","#8c564b","#e377c2","#7f7f7f","#bcbd22","#17becf","#1f77b4","#ff7f0e","#2ca02c","#f08080"]}}}},
  {"transform": [{"filter": "datum.t !== 'Avg NPS'"}], "mark": {"type": "line", "strokeWidth": 1.5, "strokeDash": [5.5, 2.4], "opacity": 0.3},
   "encoding": {"stroke": {"field": "t", "type": "nominal", "legend": null}}},
  {"transform": [{"filter": "datum.t !== 'Avg NPS'"}], "mark": {"type": "point", "filled": true, "size": 36, "opacity": 1},
   "encoding": {
    "color": {"field": "t", "type": "nominal", "legend": {"title": null, "orient": "none", "legendX": 543, "legendY": -16}, "scale": {"domain": ["Avg NPS","LTMU-H","LTMU-F","MOSSE","KCF","MDNet","Staple","GOTURN","SiamFC","ECO","BACF","DSST","DSLT","DCFNet","VITAL","STRCF","MCCTH","MetaCrest","SiamRPN++","SiamMask","SiamDW","ATOM","DiMP","SPLT","UpdateNet","SiamFC++","GlobalTrack","PrDiMP","SiamBAN","D3S","LTMU","Ocean","KYS","TRASFUST"], "range": ["#f08080","#1f77b4","#ff7f0e","#2ca02c","#d62728","#9467bd","#8c564b","#e377c2","#7f7f7f","#bcbd22","#17becf","#1f77b4","#ff7f0e","#2ca02c","#d62728","#9467bd","#8c564b","#e377c2","#7f7f7f","#bcbd22","#17becf","#1f77b4","#ff7f0e","#2ca02c","#d62728","#9467bd","#8c564b","#e377c2","#7f7f7f","#bcbd22","#17becf","#1f77b4","#ff7f0e","#2ca02c"]}},
    "shape": {"field": "t", "type": "nominal", "legend": {"title": null, "orient": "none", "legendX": 543, "legendY": -16}, "scale": {"domain": ["Avg NPS","LTMU-H","LTMU-F","MOSSE","KCF","MDNet","Staple","GOTURN","SiamFC","ECO","BACF","DSST","DSLT","DCFNet","VITAL","STRCF","MCCTH","MetaCrest","SiamRPN++","SiamMask","SiamDW","ATOM","DiMP","SPLT","UpdateNet","SiamFC++","GlobalTrack","PrDiMP","SiamBAN","D3S","LTMU","Ocean","KYS","TRASFUST"], "range": ["M-2,-0.3L3,-0.3L3,0.3L-2,0.3Z","triangle-up","triangle-up","triangle-up","triangle-up","triangle-up","triangle-up","triangle-up","triangle-up","triangle-up","triangle-up","M-1,-0.5L-0.5,-1L0,-0.5L0.5,-1L1,-0.5L0.5,0L1,0.5L0.5,1L0,0.5L-0.5,1L-1,0.5L-0.5,0Z","M-1,-0.5L-0.5,-1L0,-0.5L0.5,-1L1,-0.5L0.5,0L1,0.5L0.5,1L0,0.5L-0.5,1L-1,0.5L-0.5,0Z","M-1,-0.5L-0.5,-1L0,-0.5L0.5,-1L1,-0.5L0.5,0L1,0.5L0.5,1L0,0.5L-0.5,1L-1,0.5L-0.5,0Z","M-1,-0.5L-0.5,-1L0,-0.5L0.5,-1L1,-0.5L0.5,0L1,0.5L0.5,1L0,0.5L-0.5,1L-1,0.5L-0.5,0Z","M-1,-0.5L-0.5,-1L0,-0.5L0.5,-1L1,-0.5L0.5,0L1,0.5L0.5,1L0,0.5L-0.5,1L-1,0.5L-0.5,0Z","M-1,-0.5L-0.5,-1L0,-0.5L0.5,-1L1,-0.5L0.5,0L1,0.5L0.5,1L0,0.5L-0.5,1L-1,0.5L-0.5,0Z","M-1,-0.5L-0.5,-1L0,-0.5L0.5,-1L1,-0.5L0.5,0L1,0.5L0.5,1L0,0.5L-0.5,1L-1,0.5L-0.5,0Z","M-1,-0.5L-0.5,-1L0,-0.5L0.5,-1L1,-0.5L0.5,0L1,0.5L0.5,1L0,0.5L-0.5,1L-1,0.5L-0.5,0Z","M-1,-0.5L-0.5,-1L0,-0.5L0.5,-1L1,-0.5L0.5,0L1,0.5L0.5,1L0,0.5L-0.5,1L-1,0.5L-0.5,0Z","M-1,-0.5L-0.5,-1L0,-0.5L0.5,-1L1,-0.5L0.5,0L1,0.5L0.5,1L0,0.5L-0.5,1L-1,0.5L-0.5,0Z","circle","circle","circle","circle","circle","circle","circle","circle","circle","circle","cross","cross","cross"]}}
   }}
 ]
},
{
 "width": 540, "height": 218,
 "title": "Generalized Success Robustness Score per Attribute",
 "data": {"name": "gsr"},
 "transform": [{"fold": ["HR","DEF","RIG","1H","HM","MB","ROT","SC","IV","ARC","SOB","2H","FM","LR","OUT","FOC"], "as": ["a", "v"]}],
 "encoding": {
  "x": {"field": "a", "type": "ordinal", "sort": ["HR","DEF","RIG","1H","HM","MB","ROT","SC","IV","ARC","SOB","2H","FM","LR","OUT","FOC"], "scale": {"type": "point", "padding": 0.8}, "axis": {"title": null, "labelAngle": -45, "grid": false}},
  "y": {"field": "v", "type": "quantitative", "scale": {"domain": [0.053, 0.458], "nice": false, "zero": false}, "axis": {"title": "GSR", "values": [0.1,0.15,0.2,0.25,0.3,0.35,0.4,0.45], "format": ".2f", "grid": true, "titleX": -42, "titleBaseline": "middle"}},
  "order": {"value": null}
 },
 "layer": [
  {"transform": [{"filter": "datum.t === 'Avg GR'"}], "mark": {"type": "line", "strokeWidth": 1.8},
   "encoding": {"stroke": {"field": "t", "type": "nominal", "legend": null, "scale": {"domain": ["LTMU-H","LTMU-F","MOSSE","KCF","MDNet","Staple","GOTURN","SiamFC","ECO","BACF","DSST","DSLT","DCFNet","VITAL","STRCF","MCCTH","MetaCrest","SiamRPN++","SiamMask","SiamDW","ATOM","DiMP","SPLT","UpdateNet","SiamFC++","GlobalTrack","PrDiMP","SiamBAN","D3S","LTMU","Ocean","KYS","TRASFUST","Avg GR"], "range": ["#1f77b4","#ff7f0e","#2ca02c","#d62728","#9467bd","#8c564b","#e377c2","#7f7f7f","#bcbd22","#17becf","#1f77b4","#ff7f0e","#2ca02c","#d62728","#9467bd","#8c564b","#e377c2","#7f7f7f","#bcbd22","#17becf","#1f77b4","#ff7f0e","#2ca02c","#d62728","#9467bd","#8c564b","#e377c2","#7f7f7f","#bcbd22","#17becf","#1f77b4","#ff7f0e","#2ca02c","#f08080"]}}}},
  {"transform": [{"filter": "datum.t !== 'Avg GR'"}], "mark": {"type": "line", "strokeWidth": 1.5, "strokeDash": [5.5, 2.4], "opacity": 0.3},
   "encoding": {"stroke": {"field": "t", "type": "nominal", "legend": null}}},
  {"transform": [{"filter": "datum.t !== 'Avg GR'"}], "mark": {"type": "point", "filled": true, "size": 36, "opacity": 1},
   "encoding": {
    "color": {"field": "t", "type": "nominal", "legend": {"title": null, "orient": "none", "legendX": 543, "legendY": -16}, "scale": {"domain": ["Avg GR","LTMU-H","LTMU-F","MOSSE","KCF","MDNet","Staple","GOTURN","SiamFC","ECO","BACF","DSST","DSLT","DCFNet","VITAL","STRCF","MCCTH","MetaCrest","SiamRPN++","SiamMask","SiamDW","ATOM","DiMP","SPLT","UpdateNet","SiamFC++","GlobalTrack","PrDiMP","SiamBAN","D3S","LTMU","Ocean","KYS","TRASFUST"], "range": ["#f08080","#1f77b4","#ff7f0e","#2ca02c","#d62728","#9467bd","#8c564b","#e377c2","#7f7f7f","#bcbd22","#17becf","#1f77b4","#ff7f0e","#2ca02c","#d62728","#9467bd","#8c564b","#e377c2","#7f7f7f","#bcbd22","#17becf","#1f77b4","#ff7f0e","#2ca02c","#d62728","#9467bd","#8c564b","#e377c2","#7f7f7f","#bcbd22","#17becf","#1f77b4","#ff7f0e","#2ca02c"]}},
    "shape": {"field": "t", "type": "nominal", "legend": {"title": null, "orient": "none", "legendX": 543, "legendY": -16}, "scale": {"domain": ["Avg GR","LTMU-H","LTMU-F","MOSSE","KCF","MDNet","Staple","GOTURN","SiamFC","ECO","BACF","DSST","DSLT","DCFNet","VITAL","STRCF","MCCTH","MetaCrest","SiamRPN++","SiamMask","SiamDW","ATOM","DiMP","SPLT","UpdateNet","SiamFC++","GlobalTrack","PrDiMP","SiamBAN","D3S","LTMU","Ocean","KYS","TRASFUST"], "range": ["M-2,-0.3L3,-0.3L3,0.3L-2,0.3Z","triangle-up","triangle-up","triangle-up","triangle-up","triangle-up","triangle-up","triangle-up","triangle-up","triangle-up","triangle-up","M-1,-0.5L-0.5,-1L0,-0.5L0.5,-1L1,-0.5L0.5,0L1,0.5L0.5,1L0,0.5L-0.5,1L-1,0.5L-0.5,0Z","M-1,-0.5L-0.5,-1L0,-0.5L0.5,-1L1,-0.5L0.5,0L1,0.5L0.5,1L0,0.5L-0.5,1L-1,0.5L-0.5,0Z","M-1,-0.5L-0.5,-1L0,-0.5L0.5,-1L1,-0.5L0.5,0L1,0.5L0.5,1L0,0.5L-0.5,1L-1,0.5L-0.5,0Z","M-1,-0.5L-0.5,-1L0,-0.5L0.5,-1L1,-0.5L0.5,0L1,0.5L0.5,1L0,0.5L-0.5,1L-1,0.5L-0.5,0Z","M-1,-0.5L-0.5,-1L0,-0.5L0.5,-1L1,-0.5L0.5,0L1,0.5L0.5,1L0,0.5L-0.5,1L-1,0.5L-0.5,0Z","M-1,-0.5L-0.5,-1L0,-0.5L0.5,-1L1,-0.5L0.5,0L1,0.5L0.5,1L0,0.5L-0.5,1L-1,0.5L-0.5,0Z","M-1,-0.5L-0.5,-1L0,-0.5L0.5,-1L1,-0.5L0.5,0L1,0.5L0.5,1L0,0.5L-0.5,1L-1,0.5L-0.5,0Z","M-1,-0.5L-0.5,-1L0,-0.5L0.5,-1L1,-0.5L0.5,0L1,0.5L0.5,1L0,0.5L-0.5,1L-1,0.5L-0.5,0Z","M-1,-0.5L-0.5,-1L0,-0.5L0.5,-1L1,-0.5L0.5,0L1,0.5L0.5,1L0,0.5L-0.5,1L-1,0.5L-0.5,0Z","M-1,-0.5L-0.5,-1L0,-0.5L0.5,-1L1,-0.5L0.5,0L1,0.5L0.5,1L0,0.5L-0.5,1L-1,0.5L-0.5,0Z","circle","circle","circle","circle","circle","circle","circle","circle","circle","circle","cross","cross","cross"]}}
   }}
 ]
}
]
}
